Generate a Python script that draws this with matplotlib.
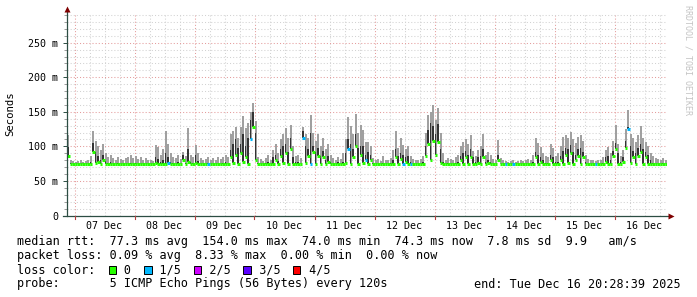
import numpy as np
import matplotlib.pyplot as plt
from matplotlib.patches import Rectangle
from matplotlib.lines import Line2D

plt.rcParams['font.family'] = ['DejaVu Sans Mono']

# hourly samples from 06 Dec ~21:00 to 16 Dec ~21:00, values in ms
rtt_max = [
    116, 80, 79, 78, 79, 80, 78, 79, 81, 86, 122, 108, 100, 95, 104, 90, 85, 88, 83, 81, 85, 82, 80, 83,
    84, 88, 83, 86, 82, 85, 81, 83, 80, 81, 79, 102, 99, 88, 96, 122, 104, 90, 85, 83, 88, 82, 92, 86,
    126, 88, 84, 102, 90, 83, 81, 82, 85, 81, 83, 80, 84, 82, 85, 88, 84, 118, 122, 128, 112, 128, 144, 126,
    134, 150, 163, 137, 85, 82, 79, 83, 88, 81, 95, 104, 90, 110, 118, 126, 112, 131, 100, 86, 88, 83, 128, 118,
    112, 145, 120, 108, 118, 100, 112, 96, 104, 88, 83, 81, 85, 82, 90, 110, 142, 130, 118, 147, 120, 131, 124, 106,
    106, 100, 83, 81, 82, 79, 86, 81, 80, 83, 95, 122, 98, 112, 102, 96, 100, 86, 82, 81, 80, 82, 86, 120,
    145, 150, 160, 138, 155, 120, 90, 81, 83, 82, 81, 84, 88, 100, 106, 111, 104, 116, 94, 86, 95, 100, 118, 88,
    92, 88, 82, 81, 109, 83, 80, 79, 78, 79, 80, 78, 79, 81, 79, 80, 82, 81, 88, 112, 105, 99, 90, 86,
    84, 104, 98, 86, 90, 100, 113, 116, 112, 121, 110, 105, 113, 116, 108, 88, 82, 81, 80, 79, 81, 80, 84, 95,
    99, 90, 108, 131, 104, 86, 95, 125, 152, 118, 112, 106, 116, 129, 112, 106, 100, 90, 86, 83, 82, 81, 83, 81,
]
rtt_mid = [
    99, 76, 75, 75, 75, 75, 75, 75, 75, 78, 105, 92, 86, 80, 88, 79, 76, 77, 75, 75, 76, 75, 75, 75,
    75, 76, 75, 76, 75, 75, 75, 75, 75, 75, 75, 84, 82, 77, 80, 90, 84, 78, 76, 75, 78, 75, 88, 76,
    96, 78, 76, 88, 79, 75, 75, 75, 76, 75, 75, 75, 75, 75, 76, 78, 75, 95, 104, 110, 98, 104, 118, 100,
    112, 138, 150, 120, 76, 75, 75, 76, 78, 75, 84, 88, 79, 96, 100, 104, 92, 112, 84, 77, 78, 75, 122, 100,
    96, 119, 100, 92, 98, 86, 94, 80, 86, 77, 75, 75, 77, 75, 78, 90, 110, 104, 96, 118, 98, 100, 100, 88,
    92, 88, 76, 75, 75, 75, 76, 75, 75, 76, 80, 96, 86, 90, 88, 84, 86, 77, 75, 75, 75, 75, 77, 100,
    124, 134, 130, 118, 132, 96, 78, 75, 76, 75, 75, 76, 78, 86, 90, 94, 88, 96, 84, 77, 84, 86, 96, 78,
    80, 78, 75, 75, 88, 75, 75, 75, 75, 75, 75, 75, 75, 75, 75, 75, 75, 75, 78, 92, 88, 84, 80, 76,
    76, 88, 84, 77, 78, 86, 94, 98, 96, 102, 92, 88, 96, 98, 92, 78, 75, 75, 75, 75, 75, 75, 76, 84,
    86, 80, 94, 105, 90, 77, 84, 108, 128, 100, 94, 90, 98, 104, 96, 92, 88, 80, 76, 75, 75, 75, 76, 75,
]
rtt_median = [
    86, 75, 74, 74, 74, 74, 74, 74, 74, 74, 92, 76, 78, 74, 80, 74, 75, 74, 74, 74, 74, 74, 74, 74,
    74, 74, 74, 74, 74, 74, 74, 74, 74, 74, 74, 76, 74, 74, 75, 74, 76, 74, 74, 74, 74, 74, 80, 74,
    78, 74, 74, 76, 74, 74, 74, 74, 74, 74, 74, 74, 74, 74, 74, 74, 74, 84, 76, 88, 74, 90, 78, 85,
    74, 110, 128, 80, 74, 74, 74, 74, 75, 74, 74, 80, 74, 86, 76, 90, 74, 96, 74, 74, 75, 74, 112, 76,
    86, 74, 92, 74, 86, 74, 84, 74, 78, 74, 74, 74, 74, 74, 74, 76, 96, 74, 84, 100, 74, 88, 76, 80,
    74, 80, 74, 74, 74, 74, 74, 74, 74, 74, 74, 84, 74, 82, 74, 78, 74, 74, 74, 74, 74, 74, 74, 86,
    104, 80, 108, 88, 106, 76, 74, 74, 74, 74, 74, 74, 74, 80, 74, 84, 74, 84, 74, 74, 76, 74, 84, 74,
    76, 74, 74, 74, 80, 74, 74, 74, 74, 74, 74, 74, 74, 74, 74, 74, 74, 74, 74, 84, 74, 78, 74, 74,
    74, 80, 74, 74, 74, 80, 74, 88, 76, 90, 74, 80, 86, 74, 84, 74, 74, 74, 74, 74, 74, 74, 74, 78,
    74, 74, 86, 96, 74, 74, 78, 98, 125, 76, 84, 74, 86, 92, 74, 84, 74, 74, 74, 74, 74, 74, 74, 74,
]
loss_hours = [40, 56, 73, 94, 97, 112, 119, 134, 137, 175, 178, 211, 224]
loss_fifths = [1, 1, 1, 1, 1, 1, 1, 1, 1, 1, 1, 1, 1]

first_midnight = 3  # hours from graph start to 07 Dec 00:00
day_labels = ['07 Dec', '08 Dec', '09 Dec', '10 Dec', '11 Dec',
              '12 Dec', '13 Dec', '14 Dec', '15 Dec', '16 Dec']
y_ticks = [0, 50, 100, 150, 200, 250]
y_labels = ['0', '50 m', '100 m', '150 m', '200 m', '250 m']
loss_names = ['0', '1/5', '2/5', '3/5', '4/5']
loss_colors = ['#26ff00', '#00b8ff', '#ce00ff', '#5a00ff', '#ff0000']

legend_lines = [
    'median rtt:  77.3 ms avg  154.0 ms max  74.0 ms min  74.3 ms now  7.8 ms sd  9.9   am/s',
    'packet loss: 0.09 % avg  8.33 % max  0.00 % min  0.00 % now',
    'loss color:  # 0  # 1/5  # 2/5  # 3/5  # 4/5',
    'probe:       5 ICMP Echo Pings (56 Bytes) every 120s',
]
end_text = 'end: Tue Dec 16 20:28:39 2025'

W, H = 697, 297
fig = plt.figure(figsize=(W / 100, H / 100), dpi=100)
fig.patch.set_facecolor('white')
ax = fig.add_axes([67 / W, (H - 215.5) / H, 600 / W, (215.5 - 13) / H])
n = len(rtt_max)
ax.set_xlim(0, n)
ax.set_ylim(0, 293)

grid_c = '#d2d2d2'
mgrid_c = '#e49c9c'
dots = (0, (1, 2))
for h in range(first_midnight, n, 6):
    if (h - first_midnight) % 24 == 0:
        ax.axvline(h, color=mgrid_c, lw=0.75, ls=dots, zorder=1)
    else:
        ax.axvline(h, color=grid_c, lw=0.75, ls=dots, zorder=1)
for v in range(10, 291, 10):
    ax.axhline(v, color=mgrid_c if v % 50 == 0 else grid_c, lw=0.75, ls=dots, zorder=1)

hi = np.array(rtt_max)
mid = np.array(rtt_mid)
med = np.array(rtt_median)
edges = np.arange(n + 1)
# smoke: light band up to the slowest ping, dark band around the median
ax.bar(edges[:-1], hi - med, bottom=med, width=0.85, align='edge', color='#a0a0a0', lw=0, zorder=2)
ax.bar(edges[:-1] + 0.15, mid - med, bottom=med, width=0.6, align='edge', color='#333333', lw=0, zorder=3)

seg_colors = [loss_colors[0]] * n
for h, f in zip(loss_hours, loss_fifths):
    seg_colors[h] = loss_colors[f]
ax.hlines(rtt_median, edges[:-1], edges[1:], colors=seg_colors, lw=2.2, zorder=4)

for s in ax.spines.values():
    s.set_visible(False)
noons = [first_midnight + 12 + 24 * k for k in range(len(day_labels))]
ax.set_xticks(noons)
ax.set_xticklabels(day_labels)
ax.tick_params(axis='x', length=0, pad=4, labelsize=7.2)
ax.set_yticks(y_ticks)
ax.set_yticklabels(y_labels)
ax.set_yticks(range(10, 291, 10), minor=True)
ax.tick_params(axis='y', which='major', length=3, width=0.7, color='#2c4d43', pad=3.5, labelsize=7.2)
ax.tick_params(axis='y', which='minor', length=2, width=0.6, color='#8c8c8c')

# axis lines with arrows
axis_c = '#2c4d43'
fig.add_artist(Line2D([66.7 / W, 66.7 / W], [1 - 215.5 / H, 1 - 10 / H], color=axis_c, lw=0.9,
                      transform=fig.transFigure))
fig.add_artist(Line2D([63 / W, 670 / W], [1 - 215.5 / H, 1 - 215.5 / H], color=axis_c, lw=0.9,
                      transform=fig.transFigure))
fig.add_artist(Line2D([66.7 / W], [1 - 9 / H], marker='^', ms=4, color='#7f0000', mec='none',
                      transform=fig.transFigure))
fig.add_artist(Line2D([671 / W], [1 - 215.5 / H], marker='>', ms=4, color='#7f0000', mec='none',
                      transform=fig.transFigure))
for k in range(len(day_labels)):
    xm = 67 + (first_midnight + 24 * k) * 600 / n
    fig.add_artist(Line2D([xm / W, xm / W], [1 - 215.5 / H, 1 - 219 / H], color='#b04040', lw=0.8,
                          transform=fig.transFigure))

fig.text(10.7 / W, 1 - 114 / H, 'Seconds', rotation=90, ha='center', va='center', fontsize=7.7)
fig.text(688 / W, 1 - 5 / H, 'RRDTOOL / TOBI OETIKER', rotation=270, ha='center', va='top',
         fontsize=6, color='#c4c4c4')

x0 = 16.7
cw = 7.08
rows = [242, 256, 270, 284]
for txt, yc in zip(legend_lines, rows):
    fig.text(x0 / W, 1 - yc / H, txt.replace('#', ' '), ha='left', va='center', fontsize=8.5)
fig.text(681 / W, 1 - rows[3] / H, end_text, ha='right', va='center', fontsize=8.5)

box_cols = [i for i, c in enumerate(legend_lines[2]) if c == '#']
for col, c in zip(box_cols, loss_colors):
    bx = x0 + col * cw
    fig.add_artist(Rectangle((bx / W, 1 - (rows[2] + 4) / H), 7.5 / W, 8 / H, facecolor=c,
                             edgecolor='black', lw=0.7, transform=fig.transFigure))

fig.savefig('out.png', dpi=100)
